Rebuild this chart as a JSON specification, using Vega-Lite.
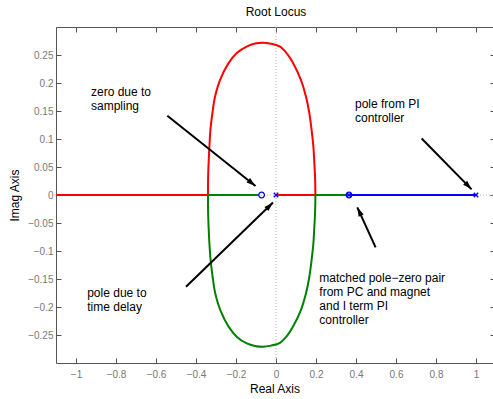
{
  "$schema": "https://vega.github.io/schema/vega-lite/v6.json",
  "width": 437,
  "height": 336,
  "autosize": {"type": "none"},
  "padding": {"left": 56, "top": 27, "right": 0, "bottom": 36},
  "background": "#ffffff",
  "config": {
    "view": {"stroke": null},
    "font": "Liberation Sans",
    "axis": {"labelFont": "Liberation Sans", "titleFont": "Liberation Sans"}
  },
  "title": {"text": "Root Locus", "fontSize": 12, "fontWeight": "normal", "color": "#000000", "baseline": "alphabetic", "offset": -1, "anchor": "middle", "dx": 1.5, "font": "Liberation Sans"},
  "datasets": {
    "zeros": [{"v": 0}],
    "locus": [
      {"seg": "u", "c": "red", "i": 0, "x": -0.340, "y": 0},
      {"seg": "u", "c": "red", "i": 1, "x": -0.3395, "y": 0.030},
      {"seg": "u", "c": "red", "i": 2, "x": -0.337, "y": 0.057},
      {"seg": "u", "c": "red", "i": 3, "x": -0.333, "y": 0.086},
      {"seg": "u", "c": "red", "i": 4, "x": -0.328, "y": 0.116},
      {"seg": "u", "c": "red", "i": 5, "x": -0.318, "y": 0.146},
      {"seg": "u", "c": "red", "i": 6, "x": -0.305, "y": 0.1755},
      {"seg": "u", "c": "red", "i": 7, "x": -0.280, "y": 0.205},
      {"seg": "u", "c": "red", "i": 8, "x": -0.238, "y": 0.235},
      {"seg": "u", "c": "red", "i": 9, "x": -0.195, "y": 0.254},
      {"seg": "u", "c": "red", "i": 10, "x": -0.147, "y": 0.265},
      {"seg": "u", "c": "red", "i": 11, "x": -0.105, "y": 0.2705},
      {"seg": "u", "c": "red", "i": 12, "x": -0.0665, "y": 0.272},
      {"seg": "u", "c": "red", "i": 13, "x": -0.025, "y": 0.270},
      {"seg": "u", "c": "red", "i": 14, "x": 0.020, "y": 0.265},
      {"seg": "u", "c": "red", "i": 15, "x": 0.056, "y": 0.252},
      {"seg": "u", "c": "red", "i": 16, "x": 0.0867, "y": 0.235},
      {"seg": "u", "c": "red", "i": 17, "x": 0.125, "y": 0.205},
      {"seg": "u", "c": "red", "i": 18, "x": 0.150, "y": 0.1755},
      {"seg": "u", "c": "red", "i": 19, "x": 0.1667, "y": 0.146},
      {"seg": "u", "c": "red", "i": 20, "x": 0.178, "y": 0.116},
      {"seg": "u", "c": "red", "i": 21, "x": 0.187, "y": 0.086},
      {"seg": "u", "c": "red", "i": 22, "x": 0.1917, "y": 0.057},
      {"seg": "u", "c": "red", "i": 23, "x": 0.1955, "y": 0.030},
      {"seg": "u", "c": "red", "i": 24, "x": 0.197, "y": 0},
      {"seg": "l", "c": "green", "i": 0, "x": -0.340, "y": 0},
      {"seg": "l", "c": "green", "i": 1, "x": -0.3395, "y": -0.030},
      {"seg": "l", "c": "green", "i": 2, "x": -0.337, "y": -0.057},
      {"seg": "l", "c": "green", "i": 3, "x": -0.333, "y": -0.086},
      {"seg": "l", "c": "green", "i": 4, "x": -0.327, "y": -0.116},
      {"seg": "l", "c": "green", "i": 5, "x": -0.317, "y": -0.146},
      {"seg": "l", "c": "green", "i": 6, "x": -0.304, "y": -0.1755},
      {"seg": "l", "c": "green", "i": 7, "x": -0.279, "y": -0.205},
      {"seg": "l", "c": "green", "i": 8, "x": -0.237, "y": -0.235},
      {"seg": "l", "c": "green", "i": 9, "x": -0.194, "y": -0.254},
      {"seg": "l", "c": "green", "i": 10, "x": -0.146, "y": -0.265},
      {"seg": "l", "c": "green", "i": 11, "x": -0.105, "y": -0.2695},
      {"seg": "l", "c": "green", "i": 12, "x": -0.0665, "y": -0.271},
      {"seg": "l", "c": "green", "i": 13, "x": -0.025, "y": -0.269},
      {"seg": "l", "c": "green", "i": 14, "x": 0.020, "y": -0.264},
      {"seg": "l", "c": "green", "i": 15, "x": 0.056, "y": -0.251},
      {"seg": "l", "c": "green", "i": 16, "x": 0.0867, "y": -0.234},
      {"seg": "l", "c": "green", "i": 17, "x": 0.125, "y": -0.205},
      {"seg": "l", "c": "green", "i": 18, "x": 0.150, "y": -0.1755},
      {"seg": "l", "c": "green", "i": 19, "x": 0.1667, "y": -0.146},
      {"seg": "l", "c": "green", "i": 20, "x": 0.178, "y": -0.116},
      {"seg": "l", "c": "green", "i": 21, "x": 0.187, "y": -0.086},
      {"seg": "l", "c": "green", "i": 22, "x": 0.1917, "y": -0.057},
      {"seg": "l", "c": "green", "i": 23, "x": 0.1955, "y": -0.030},
      {"seg": "l", "c": "green", "i": 24, "x": 0.197, "y": 0},
      {"seg": "r1", "c": "red", "i": 0, "x": -1.1, "y": 0},
      {"seg": "r1", "c": "red", "i": 1, "x": -0.340, "y": 0},
      {"seg": "g1", "c": "green", "i": 0, "x": -0.340, "y": 0},
      {"seg": "g1", "c": "green", "i": 1, "x": -0.087, "y": 0},
      {"seg": "r2", "c": "red", "i": 0, "x": 0, "y": 0},
      {"seg": "r2", "c": "red", "i": 1, "x": 0.197, "y": 0},
      {"seg": "g2", "c": "green", "i": 0, "x": 0.197, "y": 0},
      {"seg": "g2", "c": "green", "i": 1, "x": 0.365, "y": 0},
      {"seg": "b1", "c": "blue", "i": 0, "x": 0.365, "y": 0},
      {"seg": "b1", "c": "blue", "i": 1, "x": 1.0, "y": 0}
    ],
    "roots": [
      {"x": -0.072, "y": 0, "kind": "zero"},
      {"x": 0, "y": 0, "kind": "pole"},
      {"x": 0.365, "y": 0, "kind": "zero"},
      {"x": 0.365, "y": 0, "kind": "pole"},
      {"x": 1.0, "y": 0, "kind": "pole"}
    ],
    "arrows": [
      {"x": -0.5433, "y": 0.1416, "x2": -0.1025, "y2": 0.016},
      {"x": -0.45, "y": -0.1637, "x2": -0.015, "y2": -0.0134},
      {"x": 0.7283, "y": 0.101, "x2": 0.978, "y2": 0.0101},
      {"x": 0.498, "y": -0.0935, "x2": 0.4067, "y2": -0.022}
    ],
    "notes": [
      {"x": -0.925, "y": 0.176, "t": ["zero due to", "sampling"]},
      {"x": 0.395, "y": 0.1554, "t": ["pole from PI", "controller"]},
      {"x": -0.944, "y": -0.1816, "t": ["pole due to", "time delay"]},
      {"x": 0.2167, "y": -0.1548, "t": ["matched pole−zero pair", "from PC and magnet", "and I term PI", "controller"]}
    ]
  },
  "layer": [
    {
      "data": {"name": "zeros"},
      "mark": {"type": "rule", "stroke": "#b4b4b4", "strokeDash": [1, 2], "strokeWidth": 1},
      "encoding": {
        "x": {"field": "v", "type": "quantitative", "scale": {"domain": [-1.1, 1.085], "nice": false, "zero": false}, "axis": null}
      }
    },
    {
      "data": {"name": "zeros"},
      "mark": {"type": "rule", "stroke": "#b4b4b4", "strokeDash": [1, 2], "strokeWidth": 1},
      "encoding": {
        "y": {"field": "v", "type": "quantitative", "scale": {"domain": [-0.3, 0.3], "nice": false, "zero": false}, "axis": null}
      }
    },
    {
      "data": {"name": "locus"},
      "mark": {"type": "line", "interpolate": "catmull-rom", "strokeWidth": 2},
      "encoding": {
        "x": {"field": "x", "type": "quantitative", "scale": {"domain": [-1.1, 1.085], "nice": false, "zero": false},
          "axis": {"title": "Real Axis", "values": [-1, -0.8, -0.6, -0.4, -0.2, 0, 0.2, 0.4, 0.6, 0.8, 1], "format": "~g", "grid": false,
            "tickSize": -5, "labelPadding": 11, "domainColor": "#555555", "tickColor": "#555555", "labelColor": "#777777", "labelFontSize": 10,
            "labelFlush": false, "titleFontSize": 12, "titleFontWeight": "normal", "titleColor": "#000000", "titlePadding": 4}},
        "y": {"field": "y", "type": "quantitative", "scale": {"domain": [-0.3, 0.3], "nice": false, "zero": false},
          "axis": {"title": "Imag Axis", "values": [-0.25, -0.2, -0.15, -0.1, -0.05, 0, 0.05, 0.1, 0.15, 0.2, 0.25], "format": "~g", "grid": false,
            "tickSize": -5, "labelPadding": 8, "domainColor": "#555555", "tickColor": "#555555", "labelColor": "#777777", "labelFontSize": 10,
            "labelFlush": false, "titleFontSize": 12, "titleFontWeight": "normal", "titleColor": "#000000", "titlePadding": 6}},
        "detail": {"field": "seg", "type": "nominal"},
        "order": {"field": "i", "type": "quantitative"},
        "color": {"field": "c", "type": "nominal", "scale": {"domain": ["red", "green", "blue"], "range": ["#ff0000", "#008000", "#0000ff"]}, "legend": null}
      }
    },
    {
      "data": {"name": "roots"},
      "transform": [{"filter": "datum.kind == 'zero'"}],
      "mark": {"type": "point", "shape": "circle", "filled": false, "stroke": "#0000ff", "strokeWidth": 1.3, "size": 32, "opacity": 1},
      "encoding": {
        "x": {"field": "x", "type": "quantitative", "scale": {"domain": [-1.1, 1.085], "nice": false, "zero": false},
          "axis": {"orient": "top", "title": null, "labels": false, "values": [-1, -0.8, -0.6, -0.4, -0.2, 0, 0.2, 0.4, 0.6, 0.8, 1], "grid": false,
            "tickSize": -5, "domainColor": "#555555", "tickColor": "#555555"}},
        "y": {"field": "y", "type": "quantitative", "scale": {"domain": [-0.3, 0.3], "nice": false, "zero": false},
          "axis": {"orient": "right", "title": null, "labels": false, "domain": false, "values": [-0.25, -0.2, -0.15, -0.1, -0.05, 0, 0.05, 0.1, 0.15, 0.2, 0.25], "grid": false,
            "tickSize": -3, "tickColor": "#555555"}}
      }
    },
    {
      "data": {"name": "roots"},
      "transform": [{"filter": "datum.kind == 'pole'"}],
      "mark": {"type": "point", "shape": "M-1,-1L1,1M-1,1L1,-1", "filled": false, "stroke": "#0000ff", "strokeWidth": 1.3, "size": 20, "opacity": 1},
      "encoding": {
        "x": {"field": "x", "type": "quantitative", "scale": {"domain": [-1.1, 1.085], "nice": false, "zero": false}, "axis": null},
        "y": {"field": "y", "type": "quantitative", "scale": {"domain": [-0.3, 0.3], "nice": false, "zero": false}, "axis": null}
      }
    },
    {
      "data": {"name": "arrows"},
      "mark": {"type": "rule", "stroke": "#000000", "strokeWidth": 2},
      "encoding": {
        "x": {"field": "x", "type": "quantitative", "scale": {"domain": [-1.1, 1.085], "nice": false, "zero": false}, "axis": null},
        "y": {"field": "y", "type": "quantitative", "scale": {"domain": [-0.3, 0.3], "nice": false, "zero": false}, "axis": null},
        "x2": {"field": "x2"},
        "y2": {"field": "y2"}
      }
    },
    {
      "data": {"name": "arrows"},
      "transform": [{"calculate": "atan2((datum.x2 - datum.x) * 200, (datum.y2 - datum.y) * 560) * 180 / PI", "as": "ang"}],
      "mark": {"type": "point", "shape": "M0,0L-0.7,2.3L0.7,2.3Z", "filled": true, "fill": "#000000", "strokeWidth": 0, "size": 64, "opacity": 1},
      "encoding": {
        "x": {"field": "x2", "type": "quantitative", "scale": {"domain": [-1.1, 1.085], "nice": false, "zero": false}, "axis": null},
        "y": {"field": "y2", "type": "quantitative", "scale": {"domain": [-0.3, 0.3], "nice": false, "zero": false}, "axis": null},
        "angle": {"field": "ang", "type": "quantitative", "scale": null}
      }
    },
    {
      "data": {"name": "notes"},
      "mark": {"type": "text", "align": "left", "baseline": "alphabetic", "fontSize": 12, "lineHeight": 14, "fill": "#000000", "font": "Liberation Sans"},
      "encoding": {
        "x": {"field": "x", "type": "quantitative", "scale": {"domain": [-1.1, 1.085], "nice": false, "zero": false}, "axis": null},
        "y": {"field": "y", "type": "quantitative", "scale": {"domain": [-0.3, 0.3], "nice": false, "zero": false}, "axis": null},
        "text": {"field": "t"}
      }
    }
  ],
  "resolve": {"axis": {"x": "independent", "y": "independent"}}
}
